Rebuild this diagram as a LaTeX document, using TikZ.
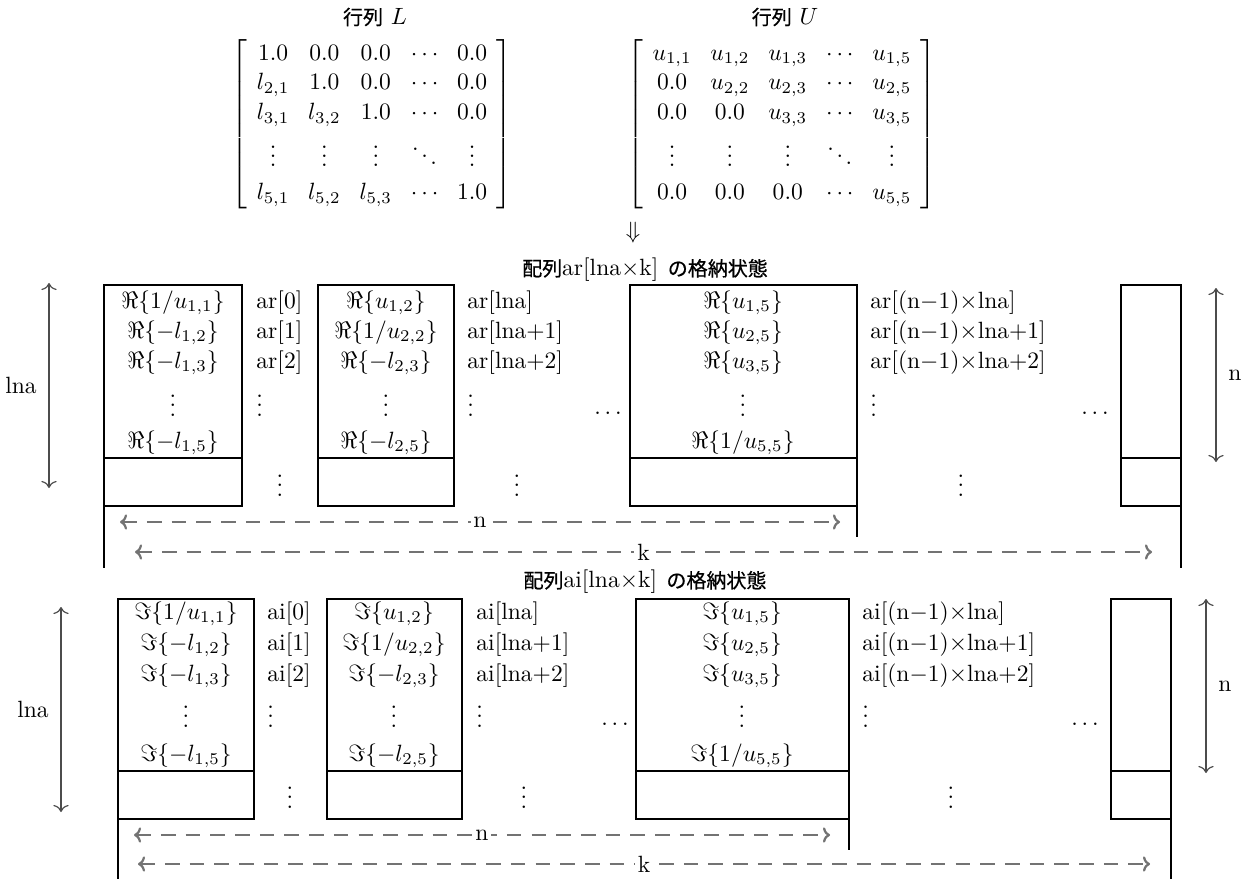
\documentclass[tikz,border=0pt]{standalone}
\usepackage{fontspec}
\newfontfamily\jpfont[Scale=0.85, FakeBold=0.6]{Noto Sans CJK JP}
\usetikzlibrary{arrows.meta, positioning, calc}
\setlength{\arraycolsep}{4pt}
\renewcommand{\arraystretch}{1.05}
\newcommand{\jp}[1]{{\jpfont #1}}

\begin{document}
\begin{tikzpicture}[
    x=0.425pt, y=-0.425pt,
    every node/.style={inner sep=0pt, text=black},
    >={Computer Modern Rightarrow[length=3pt,width=6.5pt]},
    cell/.style={anchor=base},
    idx/.style={anchor=base west},
    memline/.style={line width=1.15pt},
    span/.style={<->, black!70, line width=0.5pt},
    extent/.style={<->, black!55, line width=0.95pt, dash pattern=on 6.2pt off 4.3pt},
    cut/.style={fill=white, inner sep=1.2pt},
]

\useasboundingbox (0,0) rectangle (1245,879);

% === Matrices L and U ===
\node (tL) at (375,17) {\jp{行列} $L$};
\node (tU) at (785,17) {\jp{行列} $U$};

\node (matL) at (372,124) {$\left[\begin{array}{ccccc}
  1.0 & 0.0 & 0.0 & \cdots & 0.0\\
  l_{2,1} & 1.0 & 0.0 & \cdots & 0.0\\
  l_{3,1} & l_{3,2} & 1.0 & \cdots & 0.0\\[1.3pt]
  \vdots & \vdots & \vdots & \ddots & \vdots\\[1.3pt]
  l_{5,1} & l_{5,2} & l_{5,3} & \cdots & 1.0
\end{array}\right]$};

\node (matU) at (782,124) {$\left[\begin{array}{ccccc}
  u_{1,1} & u_{1,2} & u_{1,3} & \cdots & u_{1,5}\\
  0.0 & u_{2,2} & u_{2,3} & \cdots & u_{2,5}\\
  0.0 & 0.0 & u_{3,3} & \cdots & u_{3,5}\\[1.3pt]
  \vdots & \vdots & \vdots & \ddots & \vdots\\[1.3pt]
  0.0 & 0.0 & 0.0 & \cdots & u_{5,5}
\end{array}\right]$};

\node (down) at (633,233) {$\Downarrow$};

% === Array ar ===
\node (arTitle) at (645,270) {\jp{配列}ar[lna$\times$k]\hspace{4pt}\jp{の格納状態}};

\foreach \l/\r in {104/242, 318/454, 630/857, 1121/1181} {
  \draw[memline] (\l,285) rectangle (\r,506);
  \draw[memline] (\l,458) -- (\r,458);
}
\draw[memline] (104,506) -- (104,568);
\draw[memline] (857,506) -- (857,537);
\draw[memline] (1181,506) -- (1181,568);

\foreach \y/\a/\b/\c [count=\i] in {308/{1/u_{1,1}}/{u_{1,2}}/{u_{1,5}},
    338/{-l_{1,2}}/{1/u_{2,2}}/{u_{2,5}},
    368/{-l_{1,3}}/{-l_{2,3}}/{u_{3,5}},
    448/{-l_{1,5}}/{-l_{2,5}}/{1/u_{5,5}}} {
  \node[cell] (arA\i) at (173,\y) {$\Re\{\a\}$};
  \node[cell] (arB\i) at (386,\y) {$\Re\{\b\}$};
  \node[cell] (arC\i) at (743,\y) {$\Re\{\c\}$};
}
\foreach \x in {173, 386, 743} \node[cell] at (\x,416) {$\vdots$};

\foreach \y/\t [count=\i] in {308/0, 338/1, 368/2} {
  \node[idx] (arI\i) at (256,\y) {ar[\t]};
  \node[idx] (arJ\i) at (467,\y) {ar[lna\ifnum\i>1 +\the\numexpr\i-1\relax\fi]};
  \node[idx] (arK\i) at (870,\y) {ar[(n$-$1)$\times$lna\ifnum\i>1 +\the\numexpr\i-1\relax\fi]};
}
\foreach \x in {256, 467, 870} \node[idx] at (\x,416) {$\vdots$};
\foreach \x in {280, 517, 961} \node[cell] at (\x,496) {$\vdots$};
\node[cell] (arDots1) at (608,414) {$\dots$};
\node[cell] (arDots2) at (1095,414) {$\dots$};

% extents
\coordinate (arL0) at (49,283);
\coordinate (arL1) at (49,488);
\draw[span] (arL0) -- node[left=5pt] (arLna) {lna} (arL1);
\coordinate (arR0) at (1216,288);
\coordinate (arR1) at (1216,462);
\draw[span] (arR0) -- node[right=5pt] (arRn) {n} (arR1);

\coordinate (arN0) at (120,522);
\coordinate (arN1) at (840,522);
\draw[extent] (arN0) -- node[cut] (arNn) {n} (arN1);
\coordinate (arK0) at (135,552);
\coordinate (arK1) at (1152,552);
\draw[extent] (arK0) -- node[cut] (arKk) {k} (arK1);

% === Array ai ===
\node (aiTitle) at (645,582) {\jp{配列}ai[lna$\times$k]\hspace{4pt}\jp{の格納状態}};

\foreach \l/\r in {118/254, 327/462, 636/849, 1111/1171} {
  \draw[memline] (\l,599) rectangle (\r,819);
  \draw[memline] (\l,771) -- (\r,771);
}
\draw[memline] (118,819) -- (118,879);
\draw[memline] (849,819) -- (849,850);
\draw[memline] (1171,819) -- (1171,879);

\foreach \y/\a/\b/\c [count=\i] in {619/{1/u_{1,1}}/{u_{1,2}}/{u_{1,5}},
    650/{-l_{1,2}}/{1/u_{2,2}}/{u_{2,5}},
    681/{-l_{1,3}}/{-l_{2,3}}/{u_{3,5}},
    761/{-l_{1,5}}/{-l_{2,5}}/{1/u_{5,5}}} {
  \node[cell] (aiA\i) at (186,\y) {$\Im\{\a\}$};
  \node[cell] (aiB\i) at (394,\y) {$\Im\{\b\}$};
  \node[cell] (aiC\i) at (742,\y) {$\Im\{\c\}$};
}
\foreach \x in {186, 394, 742} \node[cell] at (\x,727) {$\vdots$};

\foreach \y/\t [count=\i] in {619/0, 650/1, 681/2} {
  \node[idx] (aiI\i) at (267,\y) {ai[\t]};
  \node[idx] (aiJ\i) at (476,\y) {ai[lna\ifnum\i>1 +\the\numexpr\i-1\relax\fi]};
  \node[idx] (aiK\i) at (862,\y) {ai[(n$-$1)$\times$lna\ifnum\i>1 +\the\numexpr\i-1\relax\fi]};
}
\foreach \x in {267, 476, 862} \node[idx] at (\x,727) {$\vdots$};
\foreach \x in {290, 524, 951} \node[cell] at (\x,808) {$\vdots$};
\node[cell] (aiDots1) at (615,725) {$\dots$};
\node[cell] (aiDots2) at (1085,725) {$\dots$};

% extents
\coordinate (aiL0) at (61,607);
\coordinate (aiL1) at (61,812);
\draw[span] (aiL0) -- node[left=5pt] (aiLna) {lna} (aiL1);
\coordinate (aiR0) at (1206,599);
\coordinate (aiR1) at (1206,773);
\draw[span] (aiR0) -- node[right=5pt] (aiRn) {n} (aiR1);

\coordinate (aiN0) at (134,835);
\coordinate (aiN1) at (830,835);
\draw[extent] (aiN0) -- node[cut] (aiNn) {n} (aiN1);
\coordinate (aiK0) at (138,864);
\coordinate (aiK1) at (1150,864);
\draw[extent] (aiK0) -- node[cut] (aiKk) {k} (aiK1);

\end{tikzpicture}
\end{document}
